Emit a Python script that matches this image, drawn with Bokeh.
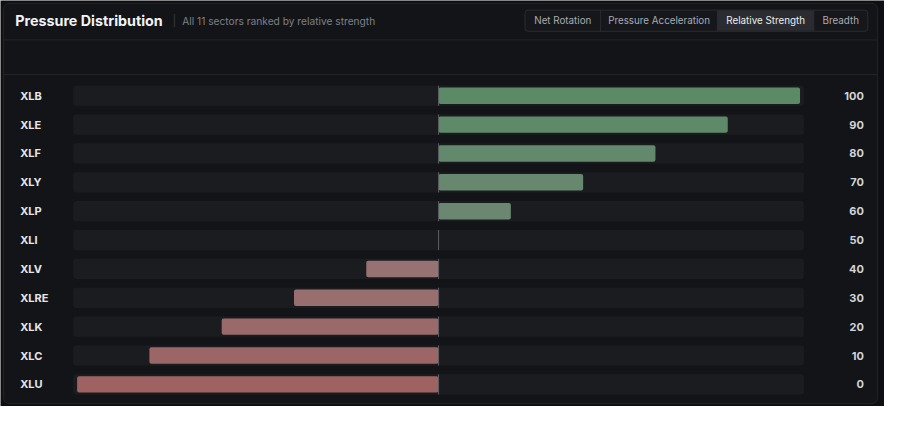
from bokeh.plotting import figure
from bokeh.models import Range1d, ColumnDataSource
from bokeh.core.properties import value
from bokeh.embed import file_html
from bokeh.resources import INLINE

# data
tickers = ["XLB", "XLE", "XLF", "XLY", "XLP", "XLI", "XLV", "XLRE", "XLK", "XLC", "XLU"]
strength = [100, 90, 80, 70, 60, 50, 40, 30, 20, 10, 0]
tabs = ["Net Rotation", "Pressure Acceleration", "Relative Strength", "Breadth"]
active_tab = "Relative Strength"

OUTER = "#0e0f12"
BG = "#131418"
TRACK = "#1b1c20"
LINE = "#23252a"
FONT = value("Inter")

# reference pixel -> data helpers (decorations only)
PX_PER_UNIT = 7.36
def px_x(px):
    return 50 + (px - 446) / PX_PER_UNIT

def px_y(px):
    return (px - 99) / 30.0

p = figure(width=884, height=406, output_backend="svg", toolbar_location=None,
           x_range=Range1d(px_x(0), px_x(900)), y_range=Range1d(px_y(422), px_y(0)),
           x_axis_location=None, y_axis_location=None, min_border=0)
p.grid.visible = False
p.background_fill_color = OUTER
p.border_fill_color = OUTER
p.outline_line_color = None

def mix(c1, c2, t):
    a = [int(c1[i:i + 2], 16) for i in (1, 3, 5)]
    b = [int(c2[i:i + 2], 16) for i in (1, 3, 5)]
    return "#%02x%02x%02x" % tuple(round(a[k] + (b[k] - a[k]) * t) for k in range(3))

def bar_color(v):
    t = abs(v - 50) / 50.0
    if v >= 50:
        return mix("#6f8574", "#5a8b66", t)
    return mix("#947676", "#9e6262", t)

rows = list(range(len(tickers)))
src = ColumnDataSource(dict(
    y=rows,
    name=tickers,
    val=[str(v) for v in strength],
    left=[min(50, v) for v in strength],
    right=[max(50, v) for v in strength],
    color=[bar_color(v) for v in strength],
))

# card
p.quad(left=px_x(3), right=px_x(893), top=px_y(3), bottom=px_y(419),
       fill_color=BG, line_color=LINE, line_width=1, border_radius=6)

# header separators
p.segment(x0=[px_x(3.5)] * 2, x1=[px_x(892.5)] * 2, y0=[px_y(41), px_y(77)], y1=[px_y(41), px_y(77)],
          line_color=LINE, line_width=1)

# tracks
pad = 4 / PX_PER_UNIT
p.hbar(y="y", left=0 - pad, right=100 + pad, height=0.7, source=src,
       fill_color=TRACK, line_color=None, border_radius=3)
# bars
p.hbar(y="y", left="left", right="right", height=0.57, source=src,
       fill_color="color", line_color=None, border_radius=2)
# zero line
p.segment(x0=50, x1=50, y0=[r - 0.35 for r in rows], y1=[r + 0.35 for r in rows],
          line_color="#5c5e64", line_width=1)

# row labels and values
p.text(x=px_x(20), y="y", text="name", source=src, text_font=FONT, text_font_size="11px",
       text_font_style="bold", text_color="#e4e6ea", text_baseline="middle", text_align="left")
p.text(x=px_x(879), y="y", text="val", source=src, text_font=FONT, text_font_size="11px",
       text_font_style="bold", text_color="#d2d4d8", text_baseline="middle", text_align="right")

# title
p.text(x=[px_x(15)], y=[px_y(21)], text=["Pressure Distribution"], text_font=FONT,
       text_font_size="14.3px", text_font_style="bold", text_color="#f2f3f5",
       text_baseline="middle")
p.text(x=[px_x(175)], y=[px_y(21)], text=["|"], text_font=FONT, text_font_size="11px",
       text_color="#3a3c42", text_baseline="middle")
p.text(x=[px_x(185)], y=[px_y(21)], text=["All 11 sectors ranked by relative strength"],
       text_font=FONT, text_font_size="10.2px", text_color="#7d8088", text_baseline="middle")

# tab buttons
edges = [534, 611, 730, 828, 883]
p.quad(left=px_x(edges[0]), right=px_x(edges[-1]), top=px_y(10), bottom=px_y(32),
       fill_color="#16171b", line_color="#2a2c31", line_width=1, border_radius=3)
for i, name in enumerate(tabs):
    l, r = edges[i], edges[i + 1]
    active = name == active_tab
    if active:
        p.quad(left=px_x(l), right=px_x(r), top=px_y(10.5), bottom=px_y(31.5),
               fill_color="#2a2c31", line_color=None)
    if i > 0:
        p.segment(x0=px_x(l), x1=px_x(l), y0=px_y(10), y1=px_y(32), line_color="#2a2c31")
    p.text(x=[px_x((l + r) / 2)], y=[px_y(21)], text=[name], text_font=FONT,
           text_font_size="9.8px", text_color="#ececee" if active else "#a9acb2",
           text_baseline="middle", text_align="center")

open("out.html", "w").write(file_html(p, INLINE))
